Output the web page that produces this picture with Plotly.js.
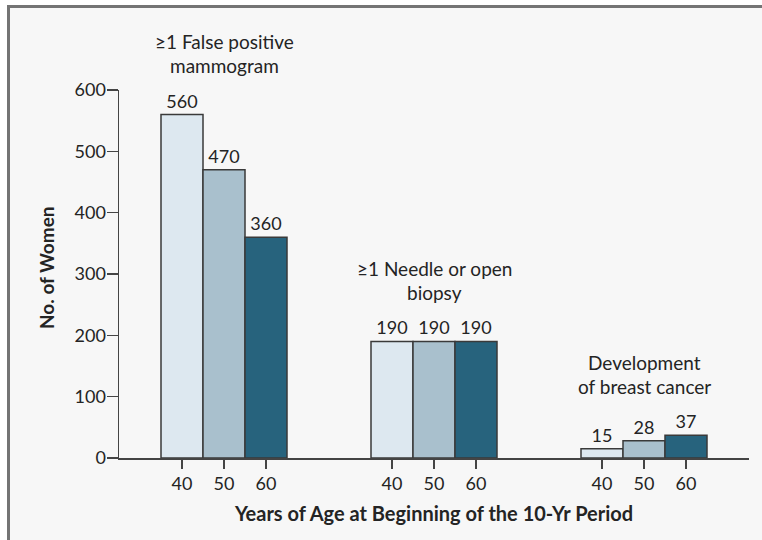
<!DOCTYPE html>
<html>
<head>
<meta charset="utf-8">
<script src="https://cdn.plot.ly/plotly-3.0.1.min.js"></script>
<style>
  html, body { margin: 0; padding: 0; background: #ffffff; width: 762px; height: 540px; overflow: hidden; }
  #chart { position: absolute; left: 7px; top: 5px; border-left: 3px solid #747474; border-top: 3px solid #747474; }
</style>
</head>
<body>
<div id="chart"></div>
<script>
// ---- data ----
const categories = ["≥1 False positive<br>mammogram", "≥1 Needle or open<br>biopsy", "Development<br>of breast cancer"];
const ages = ["40", "50", "60"];
const values40 = [560, 190, 15];
const values50 = [470, 190, 28];
const values60 = [360, 190, 37];
const yTicks = [0, 100, 200, 300, 400, 500, 600];

// ---- styling ----
const colors = ["#dde8f0", "#a9c0cd", "#27637d"];
const FONT = "Lato, Open Sans, sans-serif";
const TXT = "#242424";
const series = [values40, values50, values60];
const groupStep = ages.length + 2;

const traces = series.map((vals, ai) => ({
  type: "bar",
  x: categories.map((c, gi) => gi * groupStep + ai),
  y: vals,
  width: 1,
  text: vals.map(v => String(v)),
  textposition: "outside",
  textfont: { family: FONT, size: 18, color: TXT },
  cliponaxis: false,
  marker: { color: colors[ai], line: { color: "#3a3a3a", width: 1.5 } },
  hoverinfo: "skip",
  showlegend: false
}));

const tickvals = [], ticktext = [];
categories.forEach((c, gi) => ages.forEach((a, ai) => { tickvals.push(gi * groupStep + ai); ticktext.push(a); }));

const annotations = [];
categories.forEach((c, gi) => {
  const top = Math.max(values40[gi], values50[gi], values60[gi]);
  const lines = c.split("<br>");
  lines.forEach((ln, li) => {
    annotations.push({
      x: gi * groupStep + 1, y: top, xref: "x", yref: "y",
      text: ln, showarrow: false, xanchor: "center", yanchor: "middle",
      yshift: 49 + (lines.length - 1 - li) * 24,
      font: { family: FONT, size: 19, color: TXT }
    });
  });
});
annotations.push({
  x: 0, xref: "paper", xshift: -73, y: 0.5, yshift: 6, yref: "paper",
  text: "<b>No. of Women</b>", textangle: -90, showarrow: false,
  xanchor: "center", yanchor: "middle",
  font: { family: FONT, size: 19, color: TXT }
});

const layout = {
  width: 752, height: 532,
  margin: { l: 109, r: 13, t: 82, b: 82 },
  paper_bgcolor: "#f7f7f7", plot_bgcolor: "#f7f7f7",
  bargap: 0,
  xaxis: {
    range: [-1.5, (categories.length - 1) * groupStep + ages.length - 1 + 1.5],
    tickvals: tickvals, ticktext: ticktext,
    ticks: "outside", ticklen: 9, tickwidth: 1.5, tickcolor: "#444",
    showline: true, linecolor: "#444", linewidth: 1.5,
    showgrid: false, zeroline: false,
    tickfont: { family: FONT, size: 18, color: TXT },
    title: { text: "<b>Years of Age at Beginning of the 10-Yr Period</b>", font: { family: FONT, size: 20, color: TXT }, standoff: 14 }
  },
  yaxis: {
    range: [0, 600], tickvals: yTicks,
    ticks: "outside", ticklen: 11, tickwidth: 1.5, tickcolor: "#444",
    ticklabelstandoff: -3,
    showline: true, linecolor: "#444", linewidth: 1.5,
    showgrid: false, zeroline: false,
    tickfont: { family: FONT, size: 18, color: TXT }
  },
  annotations: annotations
};

Plotly.newPlot("chart", traces, layout, { displayModeBar: false, staticPlot: true });
</script>
</body>
</html>
